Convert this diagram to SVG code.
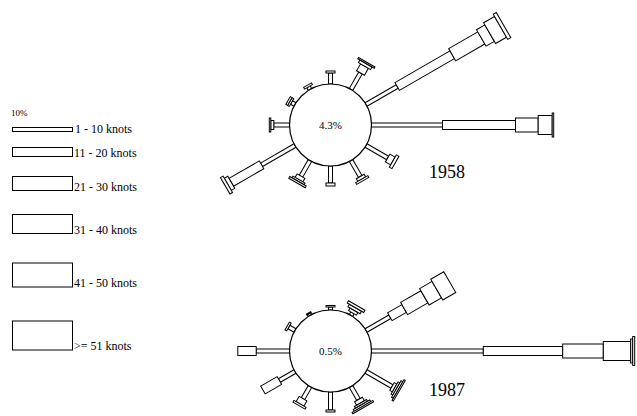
<svg xmlns="http://www.w3.org/2000/svg" width="637" height="416" viewBox="0 0 637 416">
<style>
text{font-family:'Liberation Serif','Times New Roman',serif;fill:#000}
rect{fill:#fff;stroke:#000;stroke-width:1}
circle{fill:#fff;stroke:#000;stroke-width:1.2}
</style>
<rect x="0" y="0" width="637" height="416" style="fill:#fff;stroke:none"/>
<g id="legend" font-family="Liberation Serif, Times New Roman, serif">
<text x="11" y="116" font-size="9">10%</text>
<g id="lg1" font-size="12"><rect x="12.5" y="127.5" width="60" height="4"/><text x="75" y="133">1 - 10 knots</text></g>
<g id="lg2" font-size="12"><rect x="12.5" y="147.5" width="60" height="9"/><text x="74" y="156.5">11 - 20 knots</text></g>
<g id="lg3" font-size="12"><rect x="12.5" y="176.5" width="60" height="14"/><text x="74" y="190.5">21 - 30 knots</text></g>
<g id="lg4" font-size="12"><rect x="12.5" y="214.5" width="60" height="19"/><text x="74" y="233.5">31 - 40 knots</text></g>
<g id="lg5" font-size="12"><rect x="12.5" y="263" width="60" height="24"/><text x="74" y="286.5">41 - 50 knots</text></g>
<g id="lg6" font-size="12"><rect x="12.5" y="321" width="60" height="29"/><text x="74" y="349.5">&gt;= 51 knots</text></g>
</g>
<g id="rose1958" font-family="Liberation Serif, Times New Roman, serif">
<g transform="translate(330.5,125)">
<g transform="rotate(0)"><rect x="-2" y="-52" width="4" height="11"/><rect x="-4.5" y="-54" width="9" height="2"/></g>
<g transform="rotate(30)"><rect x="-2" y="-60" width="4" height="19"/><rect x="-4.5" y="-68" width="9" height="8"/><rect x="-7" y="-71" width="14" height="3"/><rect x="-9.5" y="-72.5" width="19" height="1.5"/></g>
<g transform="rotate(60)"><rect x="-2" y="-77" width="4" height="36"/><rect x="-4.5" y="-140.5" width="9" height="63.5"/><rect x="-7" y="-174.1" width="14" height="33.6"/><rect x="-9.5" y="-183.7" width="19" height="9.6"/><rect x="-12" y="-196.3" width="24" height="12.6"/><rect x="-14.5" y="-199.8" width="29" height="3.5"/></g>
<g transform="rotate(90)"><rect x="-2" y="-112" width="4" height="71"/><rect x="-4.5" y="-185" width="9" height="73"/><rect x="-7" y="-207.7" width="14" height="22.7"/><rect x="-9.5" y="-221.7" width="19" height="14"/><rect x="-12" y="-223.2" width="24" height="1.5"/></g>
<g transform="rotate(120)"><rect x="-2" y="-66" width="4" height="25"/><rect x="-4.5" y="-72" width="9" height="6"/><rect x="-7" y="-75" width="14" height="3"/></g>
<g transform="rotate(150)"><rect x="-2" y="-59.5" width="4" height="18.5"/><rect x="-4.5" y="-62.5" width="9" height="3"/><rect x="-7" y="-64.5" width="14" height="2"/></g>
<g transform="rotate(180)"><rect x="-2" y="-58" width="4" height="17"/><rect x="-4.5" y="-61" width="9" height="3"/></g>
<g transform="rotate(210)"><rect x="-2" y="-59" width="4" height="18"/><rect x="-4.5" y="-63" width="9" height="4"/><rect x="-7" y="-65" width="14" height="2"/><rect x="-9.5" y="-67" width="19" height="2"/></g>
<g transform="rotate(240)"><rect x="-2" y="-79.6" width="4" height="38.6"/><rect x="-4.5" y="-114.6" width="9" height="35"/><rect x="-7" y="-118.6" width="14" height="4"/><rect x="-9.5" y="-121.6" width="19" height="3"/></g>
<g transform="rotate(270)"><rect x="-2" y="-56.7" width="4" height="15.7"/><rect x="-4.5" y="-59.7" width="9" height="3"/><rect x="-7" y="-61.2" width="14" height="1.5"/></g>
<g transform="rotate(300)"><rect x="-2" y="-45" width="4" height="4"/><rect x="-4.5" y="-47" width="9" height="2"/><rect x="-4.5" y="-49" width="9" height="2"/></g>
<g transform="rotate(330)"><rect x="-2" y="-44" width="4" height="3"/><rect x="-4.5" y="-46" width="9" height="2"/></g>
<circle cx="0" cy="0" r="41"/>
<text x="0" y="4" font-size="11" text-anchor="middle">4.3%</text>
</g>
<text x="429" y="178" font-size="18">1958</text>
</g>
<g id="rose1987" font-family="Liberation Serif, Times New Roman, serif">
<g transform="translate(330.5,351)">
<g transform="rotate(0)"><rect x="-2" y="-44" width="4" height="3"/><rect x="-4.5" y="-45.5" width="9" height="1.5"/></g>
<g transform="rotate(30)"><rect x="-2" y="-44" width="4" height="3"/><rect x="-4.5" y="-47" width="9" height="3"/><rect x="-7" y="-50" width="14" height="3"/><rect x="-9.5" y="-52.5" width="19" height="2.5"/></g>
<g transform="rotate(60)"><rect x="-2" y="-68.5" width="4" height="27.5"/><rect x="-4.5" y="-85" width="9" height="16.5"/><rect x="-7" y="-108.4" width="14" height="23.4"/><rect x="-9.5" y="-122.7" width="19" height="14.3"/><rect x="-12" y="-137.7" width="24" height="15"/></g>
<g transform="rotate(90)"><rect x="-2" y="-152.8" width="4" height="111.8"/><rect x="-4.5" y="-232.2" width="9" height="79.4"/><rect x="-7" y="-272.8" width="14" height="40.6"/><rect x="-9.5" y="-300.2" width="19" height="27.4"/><rect x="-12" y="-302.2" width="24" height="2"/><rect x="-14.5" y="-304.2" width="29" height="2"/></g>
<g transform="rotate(120)"><rect x="-2" y="-71" width="4" height="30"/><rect x="-4.5" y="-74" width="9" height="3"/><rect x="-7" y="-76" width="14" height="2"/><rect x="-9.5" y="-78" width="19" height="2"/><rect x="-12" y="-79.5" width="24" height="1.5"/></g>
<g transform="rotate(150)"><rect x="-2" y="-56" width="4" height="15"/><rect x="-4.5" y="-60" width="9" height="4"/><rect x="-7" y="-62" width="14" height="2"/><rect x="-9.5" y="-64" width="19" height="2"/><rect x="-12" y="-65.5" width="24" height="1.5"/></g>
<g transform="rotate(180)"><rect x="-2" y="-59" width="4" height="18"/><rect x="-4.5" y="-61" width="9" height="2"/></g>
<g transform="rotate(210)"><rect x="-2" y="-55" width="4" height="14"/><rect x="-4.5" y="-61" width="9" height="6"/><rect x="-7" y="-63" width="14" height="2"/></g>
<g transform="rotate(240)"><rect x="-2" y="-59" width="4" height="18"/><rect x="-4.5" y="-78" width="9" height="19"/></g>
<g transform="rotate(270)"><rect x="-2" y="-74.3" width="4" height="33.3"/><rect x="-4.5" y="-92.7" width="9" height="18.4"/></g>
<g transform="rotate(300)"><rect x="-2" y="-48" width="4" height="7"/><rect x="-4.5" y="-50" width="9" height="2"/></g>
<g transform="rotate(330)"><rect x="-2" y="-43" width="4" height="2"/><rect x="-2.5" y="-44" width="5" height="1"/></g>
<circle cx="0" cy="0" r="41"/>
<text x="0" y="4" font-size="11" text-anchor="middle">0.5%</text>
</g>
<text x="429" y="396" font-size="18">1987</text>
</g>
</svg>
